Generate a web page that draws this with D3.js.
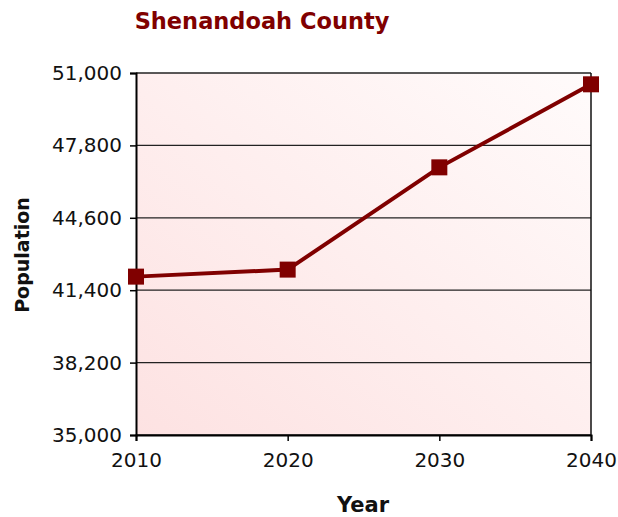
<!DOCTYPE html>
<html>
<head>
<meta charset="utf-8">
<script src="https://cdn.jsdelivr.net/npm/d3@7"></script>
<style>
body { margin: 0; background: #fff; }
text { font-family: "DejaVu Sans", Verdana, sans-serif; }
</style>
</head>
<body>
<svg width="618" height="517"></svg>
<script>
var years = [2010, 2020, 2030, 2040];
var population = [42000, 42310, 46830, 50500];
var yTicks = [35000, 38200, 41400, 44600, 47800, 51000];

var svg = d3.select("svg"),
    margin = {top: 73, right: 27, bottom: 82, left: 136},
    width = 618 - margin.left - margin.right,
    height = 517 - margin.top - margin.bottom,
    g = svg.append("g").attr("transform", "translate(" + margin.left + "," + margin.top + ")");

var x = d3.scaleLinear().domain([2010, 2040]).range([0, width]),
    y = d3.scaleLinear().domain([35000, 51000]).range([height, 0]);

var grad = svg.append("defs").append("linearGradient")
    .attr("id", "bg")
    .attr("x1", "0%").attr("y1", "100%")
    .attr("x2", "100%").attr("y2", "0%");
grad.append("stop").attr("offset", "0%").attr("stop-color", "#fde2e2");
grad.append("stop").attr("offset", "100%").attr("stop-color", "#fffbfb");

g.append("rect")
    .attr("width", width)
    .attr("height", height)
    .attr("fill", "url(#bg)");

// grid
g.append("g")
    .selectAll("line")
    .data(yTicks)
    .enter().append("line")
    .attr("x1", 0)
    .attr("x2", width)
    .attr("y1", function(d) { return y(d); })
    .attr("y2", function(d) { return y(d); })
    .attr("stroke", "#222")
    .attr("stroke-width", 1.3);

g.append("line")
    .attr("x1", width).attr("x2", width)
    .attr("y1", 0).attr("y2", height)
    .attr("stroke", "#111")
    .attr("stroke-width", 1.5);

var fmt = d3.format(",");

g.append("g")
    .attr("class", "axis axis--x")
    .attr("transform", "translate(0," + height + ")")
    .call(d3.axisBottom(x).tickValues(years).tickFormat(d3.format("d")).tickSize(6).tickPadding(12))
    .call(function(a) {
        a.select(".domain").attr("stroke", "#000").attr("stroke-width", 2);
        a.selectAll(".tick line").attr("stroke-width", 1.5);
        a.selectAll("text").style("font-size", "20px").attr("fill", "#111");
    });

g.append("g")
    .attr("class", "axis axis--y")
    .call(d3.axisLeft(y).tickValues(yTicks).tickFormat(fmt).tickSize(6).tickPadding(8))
    .call(function(a) {
        a.select(".domain").attr("stroke", "#000").attr("stroke-width", 2);
        a.selectAll(".tick line").attr("stroke-width", 1.5);
        a.selectAll("text").style("font-size", "20px").attr("fill", "#111");
    });

var pts = years.map(function(yr, i) { return {year: yr, v: population[i]}; });

var line = d3.line()
    .x(function(d) { return x(d.year); })
    .y(function(d) { return y(d.v); });

g.append("path")
    .datum(pts)
    .attr("d", line)
    .attr("fill", "none")
    .attr("stroke", "#800000")
    .attr("stroke-width", 4);

g.selectAll(".mk")
    .data(pts)
    .enter().append("rect")
    .attr("class", "mk")
    .attr("x", function(d) { return x(d.year) - 8; })
    .attr("y", function(d) { return y(d.v) - 8; })
    .attr("width", 16)
    .attr("height", 16)
    .attr("fill", "#800000");

svg.append("text")
    .attr("x", 262)
    .attr("y", 29)
    .attr("text-anchor", "middle")
    .style("font-size", "22.5px")
    .style("font-weight", "bold")
    .attr("fill", "#800000")
    .text("Shenandoah County");

svg.append("text")
    .attr("x", 363)
    .attr("y", 512)
    .attr("text-anchor", "middle")
    .style("font-size", "21px")
    .style("font-weight", "bold")
    .attr("fill", "#111")
    .text("Year");

svg.append("text")
    .attr("transform", "translate(29,255) rotate(-90)")
    .attr("text-anchor", "middle")
    .style("font-size", "19px")
    .style("font-weight", "bold")
    .attr("fill", "#111")
    .text("Population");
</script>
</body>
</html>
